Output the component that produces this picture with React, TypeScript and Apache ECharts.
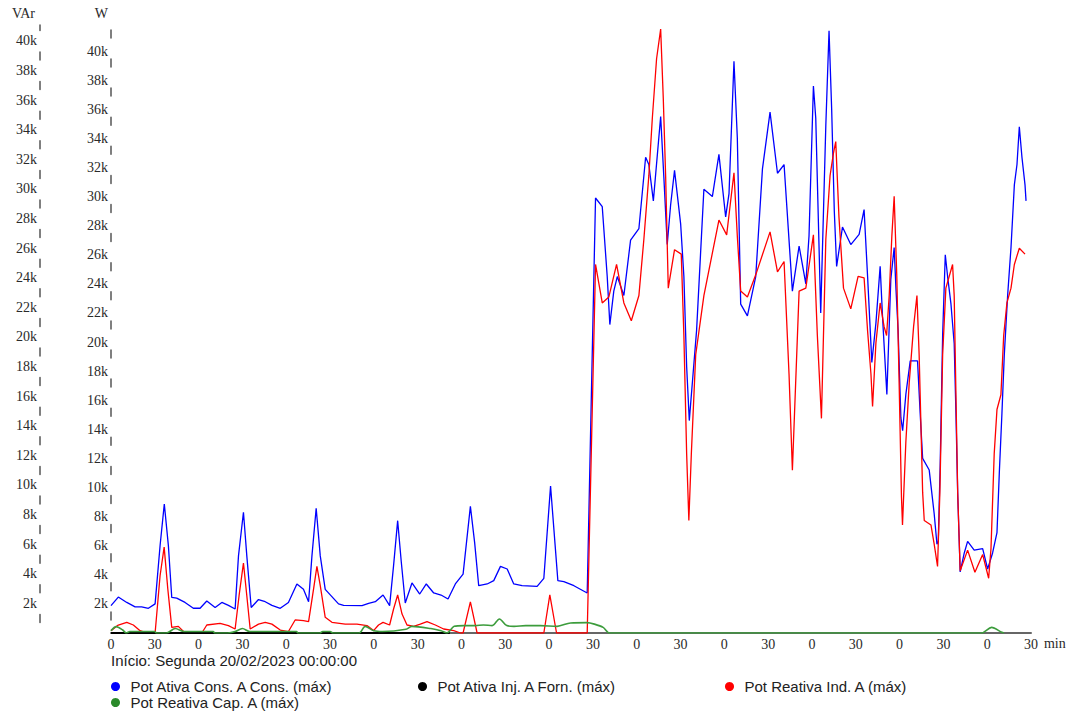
import React, { useEffect, useRef } from "react";
import * as echarts from "echarts";

// time in minutes from start, value in k (thousands)
const ativaCons: [number, number][] = [
  [0, 1.88], [5, 2.47], [10.8, 2.1], [16.5, 1.8], [21, 1.8], [25.6, 1.7], [30.2, 2.0], [33.6, 6.0], [36.5, 8.87], [39.3, 6.0],
  [41.6, 2.45], [45, 2.4], [50.7, 2.1], [56.4, 1.7], [61, 1.7], [65.6, 2.2], [71.3, 1.75], [75.9, 2.1], [80.4, 1.9], [85, 1.65],
  [87.3, 5.3], [90.7, 8.3], [93, 5.3], [96, 1.75], [101, 2.3], [105.6, 2.15], [110.2, 1.9], [115.9, 1.7], [121.5, 2.1], [127.3, 3.37],
  [131.8, 3.0], [135.3, 2.15], [137.6, 5.3], [140.5, 8.57], [143.3, 5.3], [146.7, 3.0], [155.8, 2.0], [159.3, 1.9], [171.9, 1.88], [176.4, 2.04],
  [181, 2.15], [186.3, 2.61], [190.8, 1.88], [193.5, 4.63], [196.3, 7.72], [198.8, 4.86], [201.5, 2.06], [206.1, 3.44], [211.4, 2.68], [215.9, 3.37],
  [221, 2.75], [226, 2.61], [230.8, 2.34], [235.8, 3.37], [241.1, 4.05], [246.1, 8.71], [249, 6.23], [251.8, 3.25], [257.6, 3.37], [262.1, 3.6],
  [266.7, 4.58], [271.3, 4.4], [275.8, 3.37], [281.5, 3.25], [291.8, 3.2], [296.4, 3.76], [301, 10.1], [306, 3.6], [310.1, 3.53], [317, 3.25],
  [326.1, 2.75], [331.8, 29.9], [336.4, 29.3], [339.8, 24.5], [341.6, 21.2], [344.3, 23.5], [346.7, 24.5], [351.2, 23.2], [355.8, 27.0], [361.5, 27.8],
  [366.1, 32.7], [368.3, 32.2], [371.4, 29.7], [376.4, 35.5], [378.6, 31.3], [380.9, 26.7], [383.2, 29.4], [385.9, 31.8], [390.1, 28.1], [392.3, 24.5],
  [394.2, 18.3], [396, 14.6], [398.1, 17.2], [401, 20.8], [406, 30.5], [411.8, 30.0], [416.3, 32.9], [420.9, 28.6], [423.2, 30.2], [426.6, 39.3],
  [428.9, 34.0], [431.2, 22.6], [435.8, 21.8], [441.5, 24.5], [446.1, 31.9], [451.3, 35.8], [456.4, 31.6], [460.9, 32.2], [466.6, 23.5], [471.2, 26.6],
  [475.8, 24.0], [478, 27.3], [481, 37.6], [482.6, 35.4], [486, 22.0], [489.5, 34.9], [491.7, 41.4], [493.5, 36.0], [495.3, 29.0], [496.9, 25.2],
  [500.9, 27.9], [506.6, 26.7], [512.3, 27.4], [515.7, 29.1], [518.1, 24.5], [521, 18.6], [523.8, 21.3], [526.7, 25.2], [528.4, 21.6], [531.3, 16.4],
  [534, 24.3], [536.3, 26.5], [537.5, 23.7], [539, 20.8], [540.9, 14.8], [542.1, 13.9], [544.3, 16.4], [547.3, 18.7], [552.3, 18.7], [554.1, 15.1],
  [555.8, 12.0], [560.3, 11.2], [563.7, 8.2], [565.6, 6.1], [566.5, 6.3], [567.8, 11.5], [569.5, 20.5], [571.3, 26.0], [572.9, 24.5], [575.2, 22.6],
  [577.4, 19.9], [578.6, 15.1], [579.8, 9.6], [581.5, 4.2], [584.3, 5.5], [586.6, 6.3], [591.1, 5.7], [596.9, 5.8], [600.3, 4.4], [603.7, 5.5],
  [606.7, 6.9], [608.3, 11.0], [610.1, 15.1], [611.7, 19.1], [614, 23.2], [616.3, 26.5], [618.6, 30.8], [620.4, 32.2], [622, 34.8], [623.8, 32.7],
  [625.9, 30.8], [626.6, 29.7],
];

const ativaInj: [number, number][] = [
  [0, 0], [232, 0],
];

const reativaInd: [number, number][] = [
  [0, 0.16], [5, 0.54], [10.8, 0.72], [15.3, 0.54], [19.9, 0.16], [24.7, 0], [30.2, 0], [33.6, 3.87], [36.4, 5.8], [38.9, 2.97],
  [41.6, 0.38], [46.1, 0.45], [50.7, 0], [62.2, 0], [65.6, 0.54], [74.7, 0.65], [80.4, 0.5], [85, 0.27], [87.7, 2.52], [90.7, 4.73],
  [93, 2.52], [95.3, 0.27], [101, 0.6], [105.6, 0.72], [110.2, 0.6], [115.9, 0.2], [121.5, 0.1], [126.1, 0.88], [131.8, 0.83], [135.3, 0.77],
  [138.7, 2.97], [141, 4.5], [143.3, 3.2], [146.7, 1.06], [151.3, 0.72], [160.4, 0.6], [168.4, 0.6], [175.3, 0.5], [179.8, 0.16], [183.2, 0.54],
  [186.3, 0.72], [190.8, 0.54], [193.5, 1.62], [196.3, 2.57], [199.3, 1.28], [202.7, 0.54], [207.2, 0.45], [211.8, 0.6], [216.4, 0.77], [222.1, 0.54],
  [227.8, 0.27], [234.7, 0.16], [239.3, 0], [241.1, 0], [246.1, 2.1], [250.7, 0], [296.4, 0], [300.5, 2.57], [305.1, 0], [326.1, 0],
  [331.8, 24.9], [336.4, 22.3], [340.9, 22.7], [346.2, 24.9], [351.2, 22.3], [356.3, 21.1], [361.5, 22.8], [364.9, 26.6], [368.3, 30.9], [370.7, 34.8],
  [373.6, 38.8], [376.4, 40.8], [378.2, 36.1], [379.8, 30.9], [381.6, 23.3], [385.9, 25.9], [390.5, 25.6], [392.3, 20.1], [394.2, 12.1], [395.7, 7.6],
  [397.4, 12.1], [400.4, 18.8], [406, 22.8], [416.3, 27.9], [421.6, 26.9], [426.6, 31.1], [428.9, 26.8], [431.2, 23.1], [435.8, 22.7], [441.5, 24.2],
  [451.3, 27.1], [456.4, 24.4], [460.9, 25.1], [464.3, 17.5], [466.6, 11.0], [471.2, 23.1], [475.8, 23.3], [481, 26.9], [483.7, 20.1], [486.5, 14.5],
  [489.5, 26.6], [492.4, 30.9], [494.7, 32.4], [496.3, 33.2], [498.5, 28.1], [501.6, 23.3], [506.6, 21.9], [511.6, 24.1], [515.7, 24.0], [518.1, 20.4],
  [520.4, 17.5], [521.5, 15.3], [523.8, 19.6], [526.7, 22.3], [529.4, 20.7], [531.1, 20.1], [532.9, 22.8], [534.7, 26.8], [536.3, 29.5], [538.1, 24.1],
  [539.7, 16.9], [541.3, 9.2], [542, 7.3], [544.3, 12.9], [546.6, 16.9], [549.6, 20.7], [551.9, 22.8], [553.4, 18.8], [555.8, 9.5], [556.9, 7.6],
  [561.5, 7.3], [563.7, 6.0], [566, 4.5], [567.6, 9.5], [569.5, 18.8], [571.7, 23.3], [576.3, 24.9], [577.4, 22.8], [578.6, 16.1], [579.8, 9.5],
  [581.5, 4.2], [586.6, 5.6], [591.6, 4.1], [596.9, 5.3], [601, 3.7], [602.6, 5.7], [604.8, 12.1], [606.7, 15.1], [609.4, 16.1], [611.3, 20.1],
  [613.5, 22.3], [616.3, 23.3], [618.6, 24.9], [622, 26.0], [625.9, 25.6],
];

const reativaCap: [number, number][] = [
  [0, 0.15], [3.5, 0.43], [8, 0.2], [10.5, 0], [13, 0.1], [30, 0.1], [31, 0], [38, 0], [44, 0.3], [50, 0.1],
  [70, 0.1], [71, 0], [80, 0], [85, 0.1], [90, 0.3], [95, 0.1], [127, 0.1], [128, 0], [143, 0], [145, 0.1],
  [150, 0.1], [152, 0], [170, 0], [174, 0.45], [180, 0.15], [186, 0.1], [202, 0.25], [206, 0.45], [219, 0.3], [226, 0.15],
  [230, 0], [235, 0.45], [241.5, 0.5], [249.5, 0.5], [255, 0.54], [261, 0.5], [266, 0.95], [271, 0.5], [276, 0.45], [284, 0.5],
  [294, 0.5], [305.5, 0.45], [314.7, 0.68], [326, 0.7], [331, 0.6], [337, 0.38], [341.5, 0], [596, 0], [603, 0.38], [610, 0.05],
  [611.5, 0],
];

const seriesNames = [
  "Pot Ativa Cons. A Cons. (máx)",
  "Pot Ativa Inj. A Forn. (máx)",
  "Pot Reativa Ind. A (máx)",
  "Pot Reativa Cap. A (máx)",
];
const seriesColors = ["#0000ff", "#000000", "#ff0000", "#2a8a2a"];
const startText = "Início: Segunda 20/02/2023 00:00:00";

const toK = (arr: [number, number][]) => arr.map(([t, v]) => [t, v * 1000]);

const serif = "'Liberation Serif', 'Times New Roman', serif";
const sans = "'Liberation Sans', Arial, sans-serif";

export default function App() {
  const ref = useRef<HTMLDivElement>(null);
  useEffect(() => {
    if (!ref.current) return;
    const chart = echarts.init(ref.current, undefined, { renderer: "svg" });
    const kFmt = (v: number) => (v === 0 || v % 2000 !== 0 ? "" : v / 1000 + "k");
    const yLabel = { formatter: kFmt, fontFamily: serif, fontSize: 14, color: "#2a2a2a", margin: 3 };
    const legendBase = {
      orient: "horizontal",
      padding: 0,
      itemWidth: 20,
      itemHeight: 9,
      icon: "circle",
      selectedMode: false,
      textStyle: { fontFamily: sans, fontSize: 15, color: "#222" },
    };
    chart.setOption({
      animation: false,
      backgroundColor: "#ffffff",
      grid: { left: 111, right: 45, top: 25, bottom: 80, containLabel: false },
      xAxis: {
        type: "value",
        min: 0,
        max: 630,
        interval: 30,
        name: "min",
        nameLocation: "end",
        nameGap: 10,
        nameTextStyle: { fontFamily: serif, fontSize: 14, color: "#2a2a2a", verticalAlign: "top", padding: [3, 0, 0, 0] },
        axisLine: { show: true, onZero: false, lineStyle: { color: "#666", width: 2 } },
        axisTick: { show: false },
        splitLine: { show: false },
        axisLabel: {
          formatter: (v: number) => (v % 60 === 0 ? "0" : "30"),
          margin: 4,
          fontFamily: serif,
          fontSize: 14,
          color: "#2a2a2a",
          showMaxLabel: true,
          showMinLabel: true,
        },
      },
      yAxis: [
        {
          type: "value",
          position: "left",
          min: 0,
          max: 41790,
          interval: 2000,
          name: "W",
          nameLocation: "end",
          nameGap: 5,
          nameTextStyle: { fontFamily: serif, fontSize: 14, color: "#2a2a2a", align: "right", padding: [0, 3, 0, 0] },
          axisLine: { show: true, onZero: false, lineStyle: { color: "#555", width: 1.5, type: [8, 21.1], dashOffset: 16 } },
          axisTick: { show: false },
          splitLine: { show: false },
          axisLabel: yLabel,
        },
        {
          type: "value",
          position: "left",
          offset: 71,
          min: 0,
          max: 41080,
          interval: 2000,
          name: "VAr",
          nameLocation: "end",
          nameGap: 5,
          nameTextStyle: { fontFamily: serif, fontSize: 14, color: "#2a2a2a", align: "right", padding: [0, 5, 0, 0] },
          axisLine: { show: true, onZero: false, lineStyle: { color: "#555", width: 1.5, type: [8, 21.6], dashOffset: 18.8 } },
          axisTick: { show: false },
          splitLine: { show: false },
          axisLabel: yLabel,
        },
      ],
      legend: [
        { ...legendBase, data: [seriesNames[0]], left: 111, top: 679 },
        { ...legendBase, data: [seriesNames[1]], left: 418, top: 679 },
        { ...legendBase, data: [seriesNames[2]], left: 725, top: 679 },
        { ...legendBase, data: [seriesNames[3]], left: 111, top: 695 },
      ],
      graphic: [
        {
          type: "text",
          left: 111,
          top: 653,
          style: { text: startText, font: `15px ${sans}`, fill: "#222" },
        },
      ],
      series: [
        {
          name: seriesNames[0],
          type: "line",
          yAxisIndex: 0,
          data: toK(ativaCons),
          showSymbol: false,
          color: seriesColors[0],
          lineStyle: { width: 1.3, color: seriesColors[0] },
          z: 2,
        },
        {
          name: seriesNames[2],
          type: "line",
          yAxisIndex: 1,
          data: toK(reativaInd),
          showSymbol: false,
          color: seriesColors[2],
          lineStyle: { width: 1.3, color: seriesColors[2] },
          z: 3,
        },
        {
          name: seriesNames[1],
          type: "line",
          yAxisIndex: 0,
          data: toK(ativaInj),
          showSymbol: false,
          color: seriesColors[1],
          lineStyle: { width: 2, color: seriesColors[1] },
          z: 4,
        },
        {
          name: seriesNames[3],
          type: "line",
          yAxisIndex: 1,
          data: toK(reativaCap),
          showSymbol: false,
          smooth: 0.3,
          color: seriesColors[3],
          lineStyle: { width: 1.6, color: "#3c9c3c" },
          z: 5,
        },
      ],
    });
    return () => chart.dispose();
  }, []);
  return (
    <div
      ref={ref}
      style={{ position: "fixed", left: 0, top: 0, width: 1076, height: 713, background: "#fff" }}
    />
  );
}
